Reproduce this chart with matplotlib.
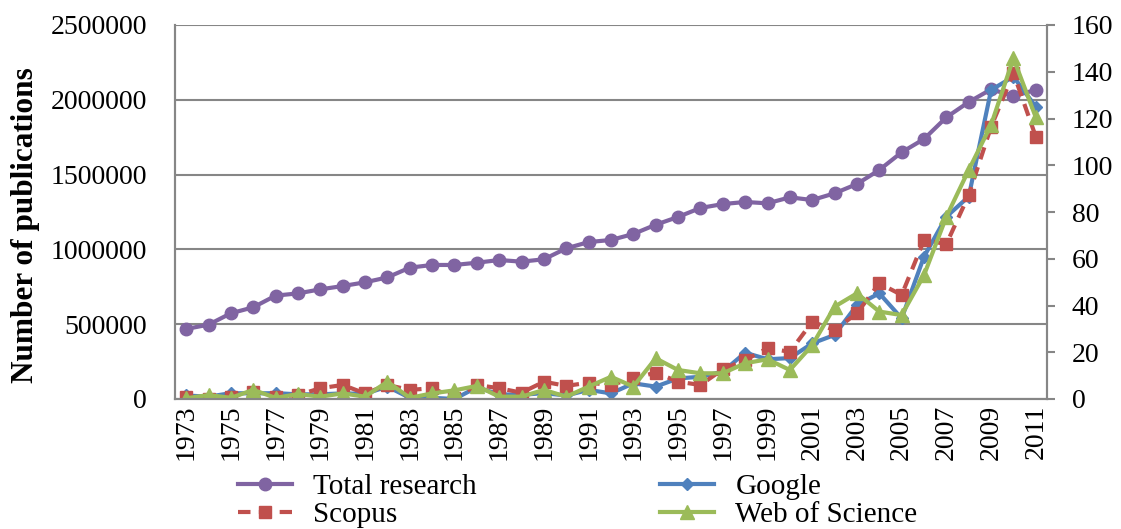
import matplotlib
matplotlib.use("Agg")
import matplotlib.pyplot as plt

years = list(range(1973, 2012))

total_research = [468000, 497000, 573000, 613000, 691000, 706000, 733000, 755000, 780000, 813000,
                  878000, 896000, 896000, 911000, 929000, 918000, 934000, 1007000, 1049000, 1063000,
                  1103000, 1165000, 1217000, 1277000, 1303000, 1317000, 1308000, 1348000, 1330000, 1375000,
                  1437000, 1531000, 1649000, 1738000, 1883000, 1985000, 2070000, 2025000, 2066000]

google = [1.5, 1, 2.5, 2.4, 2.5, 2, 2, 2.4, 2.2, 5.3,
          0.5, 0.5, 0, 5, 2, 1.8, 2.5, 1.5, 3.9, 2.4,
          6.7, 5.3, 8.8, 9.5, 11.7, 19.8, 17, 17.5, 23.8, 27.4,
          40.2, 45.2, 34.5, 60.9, 78, 86.6, 132.2, 137.9, 125]

scopus = [1, 0, 1, 3.2, 1, 1.7, 4.6, 6, 2.4, 6,
          3.9, 4.6, 0.5, 6, 4.6, 2.7, 7.4, 5.6, 7, 6,
          8.8, 11.3, 7.4, 6, 12.7, 16.7, 21.7, 20.2, 33, 29.5,
          36.7, 49.5, 44.5, 68, 66.3, 87.3, 116.5, 139.4, 112.2]

wos = [0.3, 1.7, 0.5, 3.9, 0.5, 2.1, 1, 2.4, 1, 7.4,
       0.5, 2.4, 3.7, 5.6, 1, 1, 3.9, 1, 5.3, 9.5,
       5.3, 17.4, 12.4, 11, 11, 15.3, 17, 12.4, 23, 39.5,
       45.2, 37.4, 35.9, 53, 78, 98, 117.3, 145.8, 120.5]

left_ticks = [0, 500000, 1000000, 1500000, 2000000, 2500000]
right_ticks = [0, 20, 40, 60, 80, 100, 120, 140, 160]

plt.rcParams['font.family'] = ['Liberation Serif', 'DejaVu Serif']

fig = plt.figure(figsize=(11.21, 5.29), dpi=100)
W, H = 1121, 529
ax = fig.add_axes([175 / W, (H - 399) / H, 872 / W, 374 / H])
ax2 = ax.twinx()

x = list(range(len(years)))
grey = "#868686"
fs = 20

ax.set_ylim(0, 2500000)
ax.set_yticks(left_ticks)
ax.set_yticklabels([str(v) for v in left_ticks], fontsize=fs)
ax.yaxis.grid(True, color=grey, lw=1.5)
ax.set_axisbelow(True)
ax.set_xlim(-0.5, len(years) - 0.5)
ax.set_xticks(x[::2])
ax.set_xticklabels([str(y) for y in years[::2]], rotation=90, fontsize=fs)
ax.tick_params(axis='x', length=0, pad=4)
ax.tick_params(axis='y', length=0, pad=20)
ax.set_ylabel("Number of publications", fontsize=22.5, fontweight='bold')
ax.yaxis.set_label_coords(-0.155, 0.465)

for a in (ax, ax2):
    a.spines['top'].set_visible(False)
    for s in ['left', 'right', 'bottom']:
        a.spines[s].set_color(grey)
        a.spines[s].set_linewidth(1.5)

l1, = ax.plot(x, total_research, color="#8064A2", lw=3, marker='o', ms=9,
              label="Total research")

ax2.set_ylim(0, 160)
ax2.set_yticks(right_ticks)
ax2.set_yticklabels([str(v) for v in right_ticks], fontsize=fs)
ax2.tick_params(axis='y', length=6, width=1.5, color=grey, pad=12)

l2, = ax2.plot(x, google, color="#4F81BD", lw=3, marker='D', ms=6, label="Google")
l3, = ax2.plot(x, scopus, color="#C0504D", lw=3, marker='s', ms=8, ls=(0, (3, 2)),
               label="Scopus")
l4, = ax2.plot(x, wos, color="#9BBB59", lw=3, marker='^', ms=10, label="Web of Science")

fig.legend(handles=[l1, l3, l2, l4], ncol=2, frameon=False, fontsize=21,
           loc='upper left', bbox_to_anchor=(238 / W, 1 - 474 / H), handlelength=1.85,
           handletextpad=0.72, columnspacing=6.3, labelspacing=0.05, borderpad=0,
           borderaxespad=0)

fig.savefig("out.png", dpi=100)
